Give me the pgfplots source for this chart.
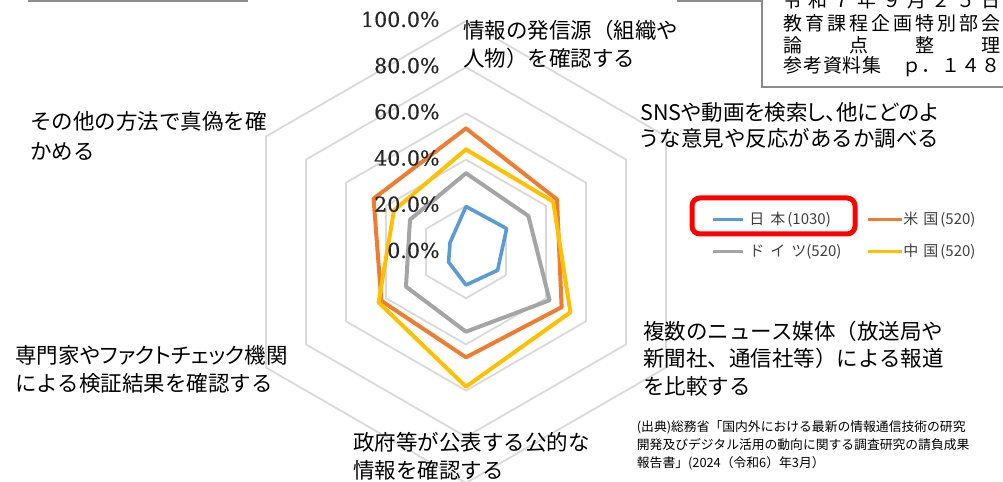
\documentclass[border=0pt]{standalone}
\usepackage{fontspec}
\setmainfont{Noto Sans CJK JP}
\newfontfamily\tickfont[FakeBold=0.6]{DejaVu Serif}
\usepackage{pgfplots}
\pgfplotsset{compat=1.18}
\usepgfplotslibrary{polar}
\definecolor{cJP}{HTML}{5B9BD5}
\definecolor{cUS}{HTML}{ED7D31}
\definecolor{cDE}{HTML}{A5A5A5}
\definecolor{cCN}{HTML}{FFC000}
\definecolor{gridc}{HTML}{D9D9D9}
\definecolor{ticktxt}{HTML}{262626}
\definecolor{legtxt}{HTML}{404040}
\definecolor{boxline}{HTML}{8C8C8C}
\newcommand{\lbl}{\fontsize{10.75pt}{13pt}\selectfont}
\newcommand{\boxf}{\fontsize{9.5pt}{11pt}\selectfont}
\newcommand{\srcf}{\fontsize{6.4pt}{8pt}\selectfont}
\newcommand{\legf}{\fontsize{7.5pt}{9pt}\selectfont}
\newcommand{\tickf}{\tickfont\fontsize{10.3pt}{12pt}\selectfont}
\tikzset{ticklbl/.style={anchor=east, inner sep=0pt, xshift=-13pt, yshift=0.8pt, text=ticktxt, font=\tickf}}
\begin{document}
\begin{tikzpicture}
\useasboundingbox (0,0) rectangle (501.5pt,241pt);
\clip (0,0) rectangle (501.5pt,241pt);
\begin{polaraxis}[
  at={(233pt,115pt)}, anchor=origin,
  width=231pt, height=231pt, scale only axis,
  xmin=0, xmax=360, ymin=0, ymax=100,
  hide axis, clip=false,
  every axis plot/.append style={line join=round, line cap=round},
]
% hexagonal grid rings
\addplot[gridc, line width=0.9pt] coordinates {(90,20) (30,20) (330,20) (270,20) (210,20) (150,20) (90,20)};
\addplot[gridc, line width=0.9pt] coordinates {(90,40) (30,40) (330,40) (270,40) (210,40) (150,40) (90,40)};
\addplot[gridc, line width=0.9pt] coordinates {(90,60) (30,60) (330,60) (270,60) (210,60) (150,60) (90,60)};
\addplot[gridc, line width=0.9pt] coordinates {(90,80) (30,80) (330,80) (270,80) (210,80) (150,80) (90,80)};
\addplot[gridc, line width=0.9pt] coordinates {(90,100) (30,100) (330,100) (270,100) (210,100) (150,100) (90,100)};
% series
\addplot[cJP, line width=1.8pt] coordinates {(90,19.7) (30,20.3) (330,15.8) (270,14.3) (210,8.7) (150,8.0) (90,19.7)};
\addplot[cUS, line width=2pt] coordinates {(90,53.5) (30,45.5) (330,47.8) (270,45.6) (210,42.3) (150,46.2) (90,53.5)};
\addplot[cDE, line width=2pt] coordinates {(90,34.1) (30,31.2) (330,41.8) (270,34.5) (210,30.0) (150,28.0) (90,34.1)};
\addplot[cCN, line width=2pt] coordinates {(90,44.4) (30,43.6) (330,52.2) (270,58.3) (210,43.7) (150,36.0) (90,44.4)};
% radial tick labels
\node[ticklbl] at (axis cs:90,0) {0.0\%};
\node[ticklbl] at (axis cs:90,20) {20.0\%};
\node[ticklbl] at (axis cs:90,40) {40.0\%};
\node[ticklbl] at (axis cs:90,60) {60.0\%};
\node[ticklbl] at (axis cs:90,80) {80.0\%};
\node[ticklbl] at (axis cs:90,100) {100.0\%};
\end{polaraxis}
\begin{scope}[x=0.5pt, y=-0.5pt, shift={(0,241pt)}]
  % axis labels
  \node[anchor=west, inner sep=0pt, font=\lbl] at (463,30) {情報の発信源（組織や};
  \node[anchor=west, inner sep=0pt, font=\lbl] at (463,58) {人物）を確認する};
  \node[anchor=west, inner sep=0pt, font={\lbl\addfontfeature{RawFeature=+palt}}] at (640,112) {SNSや動画を検索し、他にどのよ};
  \node[anchor=west, inner sep=0pt, font=\lbl] at (638,138) {うな意見や反応があるか調べる};
  \node[anchor=west, inner sep=0pt, font=\lbl] at (643,331) {複数のニュース媒体（放送局や};
  \node[anchor=west, inner sep=0pt, font=\lbl] at (643,358) {新聞社、通信社等）による報道};
  \node[anchor=west, inner sep=0pt, font=\lbl] at (643,386) {を比較する};
  \node[anchor=west, inner sep=0pt, font=\lbl] at (353,442) {政府等が公表する公的な};
  \node[anchor=west, inner sep=0pt, font=\lbl] at (353,470) {情報を確認する};
  \node[anchor=west, inner sep=0pt, font={\lbl\addfontfeature{RawFeature=+palt}}] at (15,355) {専門家やファクトチェック機関};
  \node[anchor=west, inner sep=0pt, font=\lbl] at (15,383) {による検証結果を確認する};
  \node[anchor=west, inner sep=0pt, font=\lbl] at (30,121) {その他の方法で真偽を確};
  \node[anchor=west, inner sep=0pt, font=\lbl] at (30,151) {かめる};
  % top frames
  \draw[boxline, line width=1pt] (28,1) -- (248,1);
  \draw[boxline, line width=1pt] (677,1) -- (762,1) -- (762,87) -- (1004,87);
  \node[anchor=west, inner sep=0pt, font=\boxf] at (783,0) {\makebox[108.5pt][s]{令\hfill 和\hfill ７\hfill 年\hfill ９\hfill 月\hfill ２\hfill ５\hfill 日}};
  \node[anchor=west, inner sep=0pt, font=\boxf] at (783,23.5) {\makebox[108.5pt][s]{教\hfill 育\hfill 課\hfill 程\hfill 企\hfill 画\hfill 特\hfill 別\hfill 部\hfill 会}};
  \node[anchor=west, inner sep=0pt, font=\boxf] at (783,45) {\makebox[108.5pt][s]{論\hfill 点\hfill 整\hfill 理}};
  \node[anchor=west, inner sep=0pt, font=\boxf] at (783,66.5) {\makebox[108.5pt][s]{参\hfill 考\hfill 資\hfill 料\hfill 集\hfill 　\hfill ｐ\hfill ．\hfill １\hfill ４\hfill ８}};
  % legend
  \draw[red, line width=2.5pt, rounded corners=4pt] (692,198) rectangle (855,234);
  \draw[cJP, line width=1.6pt] (713,219.5) -- (743,219.5);
  \draw[cUS, line width=1.6pt] (868,219.5) -- (902,219.5);
  \draw[cDE, line width=1.9pt] (713,251.5) -- (743,251.5);
  \draw[cCN, line width=1.9pt] (868,251.5) -- (902,251.5);
  \node[anchor=west, inner sep=0pt, font=\legf, text=legtxt] at (749,219.5) {日\hspace{3pt}本\hspace{1pt}(1030)};
  \node[anchor=west, inner sep=0pt, font=\legf, text=legtxt] at (903,219.5) {米\hspace{2.5pt}国\hspace{1pt}(520)};
  \node[anchor=west, inner sep=0pt, font=\legf, text=legtxt] at (749,251.5) {ド\hspace{3pt}イ\hspace{3pt}ツ(520)};
  \node[anchor=west, inner sep=0pt, font=\legf, text=legtxt] at (903,251.5) {中\hspace{2.5pt}国\hspace{1pt}(520)};
  % source note
  \node[anchor=west, inner sep=0pt, font=\srcf] at (636.5,427) {(出典)総務省「国内外における最新の情報通信技術の研究};
  \node[anchor=west, inner sep=0pt, font=\srcf] at (636.5,445) {開発及びデジタル活用の動向に関する調査研究の請負成果};
  \node[anchor=west, inner sep=0pt, font=\srcf] at (636.5,463) {報告書」(2024（令和6）年3月）};
\end{scope}
\end{tikzpicture}
\end{document}
